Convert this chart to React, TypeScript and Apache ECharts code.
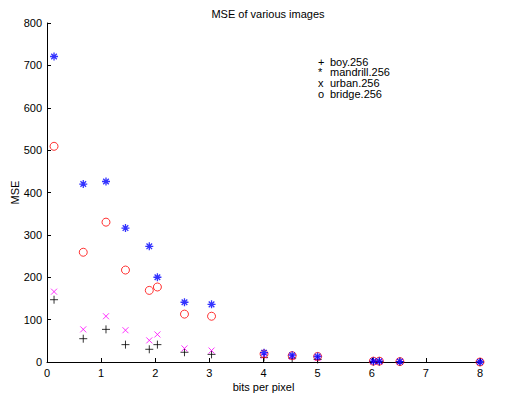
import React, { useEffect, useRef } from "react";
import * as echarts from "echarts";

const bitsPerPixel = [0.13, 0.67, 1.09, 1.45, 1.89, 2.04, 2.54, 3.04, 4.01, 4.53, 5.0, 6.03, 6.14, 6.52, 8.0];
const boy = [147, 55, 77, 41, 30, 41, 23, 18, 11, 9, 6, 1, 1, 0.5, 0];
const mandrill = [721, 420, 426, 316, 273, 200, 141, 136, 22, 16, 13, 2, 2, 1, 0];
const urban = [166, 77, 108, 75, 51, 65, 32, 27, 15, 12, 9, 1, 1, 0.5, 0];
const bridge = [509, 259, 330, 217, 169, 177, 113, 108, 19, 15, 13, 2, 2, 1, 0];
const legendNames = ["boy.256", "mandrill.256", "urban.256", "bridge.256"];
const legendGlyphs = ["+", "*", "x", "o"];

const FONT = "'Liberation Sans', Arial, sans-serif";

const pairs = (ys: number[]) => bitsPerPixel.map((x, i) => [x, ys[i]]);

export default function App() {
  const ref = useRef<HTMLDivElement>(null);
  useEffect(() => {
    if (!ref.current) return;
    const chart = echarts.init(ref.current, undefined, { renderer: "svg" });
    const hollow = "rgba(0,0,0,0)";
    chart.setOption({
      animation: false,
      backgroundColor: "#fff",
      title: {
        text: "MSE of various images",
        left: 263,
        textAlign: "center",
        top: 3,
        textStyle: { fontFamily: FONT, fontSize: 11, fontWeight: "normal", color: "#000" },
      },
      grid: { left: 47, right: 34, top: 23, bottom: 36, containLabel: false, outerBoundsMode: "none" },
      xAxis: {
        type: "value",
        min: 0,
        max: 8,
        interval: 1,
        name: "bits per pixel",
        nameLocation: "middle",
        nameGap: 19,
        nameMoveOverlap: false,
        nameTextStyle: { fontFamily: FONT, fontSize: 11, color: "#000" },
        axisLine: { show: true, onZero: false, lineStyle: { color: "#000", width: 1 } },
        axisTick: { show: true, inside: true, length: 4, lineStyle: { color: "#000" } },
        axisLabel: { fontFamily: FONT, fontSize: 11, color: "#000", margin: 5 },
        splitLine: { show: false },
      },
      yAxis: {
        type: "value",
        min: 0,
        max: 800,
        interval: 100,
        name: "MSE",
        nameLocation: "middle",
        nameGap: 27,
        nameMoveOverlap: false,
        nameTextStyle: { fontFamily: FONT, fontSize: 11, color: "#000" },
        axisLine: { show: true, onZero: false, lineStyle: { color: "#000", width: 1 } },
        axisTick: { show: true, inside: true, length: 4, lineStyle: { color: "#000" } },
        axisLabel: { fontFamily: FONT, fontSize: 11, color: "#000", margin: 5 },
        splitLine: { show: false },
      },
      series: [
        {
          name: legendNames[0],
          type: "scatter",
          data: pairs(boy),
          symbol: "path://M5,0L5,10M0,5L10,5",
          symbolSize: 8,
          itemStyle: { color: hollow, borderColor: "#000", borderWidth: 1 },
          z: 2,
        },
        {
          name: legendNames[2],
          type: "scatter",
          data: pairs(urban),
          symbol: "path://M0,0L10,10M10,0L0,10",
          symbolSize: 6,
          itemStyle: { color: hollow, borderColor: "#ff00ff", borderWidth: 1 },
          z: 3,
        },
        {
          name: legendNames[3],
          type: "scatter",
          data: pairs(bridge),
          symbol: "circle",
          symbolSize: 8,
          itemStyle: { color: hollow, borderColor: "#ff0000", borderWidth: 1 },
          z: 4,
        },
        {
          name: legendNames[1],
          type: "scatter",
          data: pairs(mandrill),
          symbol: "path://M5,0L5,10M0,5L10,5M1.5,1.5L8.5,8.5M8.5,1.5L1.5,8.5",
          symbolSize: 8,
          itemStyle: { color: hollow, borderColor: "#0000ff", borderWidth: 1.3 },
          z: 5,
        },
      ],
      graphic: legendNames.flatMap((name, i) => [
        {
          type: "text",
          left: 318,
          top: 56 + i * 10.7,
          style: { text: legendGlyphs[i], fontFamily: FONT, fontSize: 11, fill: "#000" },
        },
        {
          type: "text",
          left: 330,
          top: 56 + i * 10.7,
          style: { text: name, fontFamily: FONT, fontSize: 11, fill: "#000" },
        },
      ]),
    });
    return () => chart.dispose();
  }, []);
  return <div ref={ref} style={{ width: 514, height: 398, position: "absolute", left: 0, top: 0 }} />;
}
